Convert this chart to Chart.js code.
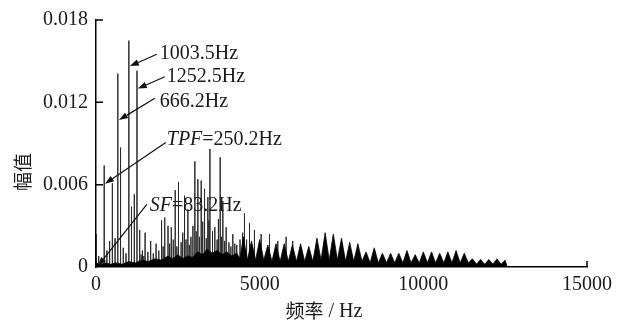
<!DOCTYPE html>
<html>
<head>
<meta charset="utf-8">
<script src="https://cdn.jsdelivr.net/npm/chart.js@4"></script>
<style>
html, body { margin: 0; padding: 0; background: #fff; }
canvas { display: block; }
</style>
</head>
<body>
<canvas id="canvas" width="618" height="324"></canvas>
<script>
// discrete spectral lines (Hz / amplitude)
var spikeFreq = [15, 83.2, 166, 250.2, 333, 416, 500, 583, 666.2, 750, 833, 916,
    1003.5, 1085, 1170, 1252.5, 1335, 1380, 1418, 1460, 1500, 1585, 1670, 1750, 1835, 1918,
    2003, 2050, 2100, 2200, 2250, 2300, 2360, 2420, 2470, 2520, 2600, 2650, 2705, 2750,
    2807, 2850, 2900, 2960, 3020, 3060, 3112, 3160, 3214, 3260, 3316, 3370, 3417, 3450,
    3480, 3560, 3631, 3700, 3740, 3794, 3830, 3875, 3930, 3977, 4060, 4120, 4180, 4240,
    4300, 4400, 4480, 4536, 4600, 4689, 4750, 4841, 5045, 5300, 5553, 5807, 6010];
var spikeAmp = [0.0024, 0.0008, 0.0006, 0.0074, 0.0012, 0.0019, 0.0061, 0.0021, 0.0141, 0.0087, 0.0014, 0.0010,
    0.0165, 0.0044, 0.0053, 0.0143, 0.0027, 0.0009, 0.0012, 0.0008, 0.0025, 0.0011, 0.0019, 0.0010, 0.0017, 0.0012,
    0.0034, 0.0015, 0.0036, 0.0030, 0.0017, 0.0029, 0.0020, 0.0056, 0.0015, 0.0062, 0.0018, 0.0025, 0.0052, 0.0020,
    0.0042, 0.0016, 0.0022, 0.0030, 0.0077, 0.0026, 0.0064, 0.0022, 0.0063, 0.0033, 0.0057, 0.0021, 0.0051, 0.0034,
    0.0086, 0.0026, 0.0029, 0.0020, 0.0035, 0.0080, 0.0022, 0.0048, 0.0019, 0.0029, 0.0018, 0.0015, 0.0024, 0.0017,
    0.0016, 0.0020, 0.0025, 0.0039, 0.0020, 0.0032, 0.0018, 0.0027, 0.0024, 0.0024, 0.0019, 0.0022, 0.0019];

// outline of the dense black noise floor / sideband clusters
var envFreq = [0, 150, 300, 450, 600, 800, 1000, 1200, 1400, 1600, 1800, 2000, 2200, 2350, 2500, 2650,
    2800, 2950, 3100, 3250, 3400, 3550, 3700, 3850, 4000, 4150, 4300, 4400,
    4500, 4625, 4750, 4875, 5000, 5125, 5250, 5375, 5500, 5625, 5750, 5875,
    6000, 6125, 6250, 6375, 6500, 6625, 6750, 6875, 7000, 7125, 7250, 7375,
    7500, 7625, 7750, 7875, 8000, 8125, 8250, 8375, 8500, 8625, 8750, 8875,
    9000, 9125, 9250, 9375, 9500, 9625, 9750, 9875, 10000, 10125, 10250, 10375,
    10500, 10625, 10750, 10875, 11000, 11125, 11250, 11375, 11500, 11625, 11750, 11875,
    12000, 12125, 12250, 12375, 12500, 12560];
var envAmp = [0.0003, 0.0002, 0.0003, 0.0002, 0.0003, 0.0002, 0.0004, 0.0003, 0.0005, 0.0004, 0.0006, 0.0005, 0.0008, 0.0006, 0.0009, 0.0006,
    0.0008, 0.0007, 0.0011, 0.0009, 0.0013, 0.0010, 0.0012, 0.0009, 0.0011, 0.0008, 0.0010, 0.0006,
    0.0022, 0.0005, 0.0019, 0.0005, 0.0020, 0.0005, 0.0016, 0.0004, 0.0017, 0.0004, 0.0017, 0.0004,
    0.0016, 0.0004, 0.0017, 0.0004, 0.0015, 0.0004, 0.0021, 0.0005, 0.0025, 0.0005, 0.0024, 0.0005,
    0.0021, 0.0004, 0.0018, 0.0004, 0.0017, 0.0004, 0.0011, 0.0003, 0.0014, 0.0003, 0.0010, 0.0003,
    0.0010, 0.0003, 0.0010, 0.0003, 0.0012, 0.0003, 0.0009, 0.0003, 0.0011, 0.0003, 0.0011, 0.0003,
    0.0010, 0.0003, 0.0011, 0.0003, 0.0012, 0.0003, 0.0010, 0.0003, 0.0006, 0.0002, 0.00055, 0.0002,
    0.00055, 0.0002, 0.0006, 0.0002, 0.0005, 0];

var xTicks = [0, 5000, 10000, 15000];
var yTicks = [0, 0.006, 0.012, 0.018];

// callouts: arrow head, arrow tail and text anchor, in data units
var callouts = [
    { parts: [['1003.5Hz', false]], head: [1035, 0.01464], tail: [1857, 0.0155], text: [1949, 0.01557] },
    { parts: [['1252.5Hz', false]], head: [1279, 0.0130], tail: [2101, 0.01386], text: [2162, 0.01386] },
    { parts: [['666.2Hz', false]], head: [700, 0.01071], tail: [1797, 0.01229], text: [1949, 0.01207] },
    { parts: [['TPF', true], ['=250.2Hz', false]], head: [274, 0.00607], tail: [2131, 0.00907], text: [2162, 0.00929] },
    { parts: [['SF', true], ['=83.2Hz', false]], head: [61, 0.00007], tail: [1553, 0.00457], text: [1644, 0.00443] }
];

var SERIF = "'Liberation Serif', 'Times New Roman', serif";
var CJK = "'Noto Sans CJK SC', sans-serif";

var spikeData = [];
spikeFreq.forEach(function(f, i){
    spikeData.push({x: f, y: 0}, {x: f, y: spikeAmp[i]}, {x: f, y: 0});
});
var envData = envFreq.map(function(f, i){ return {x: f, y: envAmp[i]}; });

var decor = {
    id: 'decor',
    afterDraw: function(chart){
        var ctx = chart.ctx, xs = chart.scales.x, ys = chart.scales.y, a = chart.chartArea;
        ctx.save();
        // inward tick marks
        ctx.strokeStyle = '#000';
        ctx.lineWidth = 1.5;
        ctx.beginPath();
        yTicks.forEach(function(v){
            if (v === 0) return;
            var y = ys.getPixelForValue(v);
            ctx.moveTo(a.left, y); ctx.lineTo(a.left + 7, y);
        });
        xTicks.forEach(function(v){
            if (v === 0) return;
            var x = xs.getPixelForValue(v);
            ctx.moveTo(x, a.bottom); ctx.lineTo(x, a.bottom - 6);
        });
        ctx.stroke();

        // callouts
        callouts.forEach(function(c){
            var hx = xs.getPixelForValue(c.head[0]), hy = ys.getPixelForValue(c.head[1]);
            var tx = xs.getPixelForValue(c.tail[0]), ty = ys.getPixelForValue(c.tail[1]);
            var ang = Math.atan2(hy - ty, hx - tx);
            var len = 9, half = 3.2;
            var bx = hx - len * Math.cos(ang), by = hy - len * Math.sin(ang);
            ctx.strokeStyle = '#111';
            ctx.lineWidth = 1.2;
            ctx.beginPath(); ctx.moveTo(tx, ty); ctx.lineTo(bx, by); ctx.stroke();
            ctx.fillStyle = '#111';
            ctx.beginPath();
            ctx.moveTo(hx, hy);
            ctx.lineTo(bx + half * Math.sin(ang), by - half * Math.cos(ang));
            ctx.lineTo(bx - half * Math.sin(ang), by + half * Math.cos(ang));
            ctx.closePath(); ctx.fill();

            var px = xs.getPixelForValue(c.text[0]), py = ys.getPixelForValue(c.text[1]);
            ctx.textBaseline = 'middle';
            ctx.textAlign = 'left';
            ctx.fillStyle = '#1a1a1a';
            c.parts.forEach(function(p){
                ctx.font = (p[1] ? 'italic ' : '') + '20px ' + SERIF;
                ctx.fillText(p[0], px, py);
                px += ctx.measureText(p[0]).width;
            });
        });

        // axis titles
        ctx.fillStyle = '#1a1a1a';
        ctx.textBaseline = 'middle';
        ctx.textAlign = 'center';
        ctx.font = '19px ' + CJK;
        ctx.save();
        ctx.translate(23, 172);
        ctx.rotate(-Math.PI / 2);
        ctx.fillText('幅值', 0, 0);
        ctx.restore();

        ctx.textAlign = 'left';
        ctx.font = '19px ' + CJK;
        var w1 = ctx.measureText('频率').width;
        ctx.font = '20px ' + SERIF;
        var w2 = ctx.measureText(' / Hz').width;
        var sx = 324 - (w1 + w2) / 2;
        ctx.font = '19px ' + CJK;
        ctx.fillText('频率', sx, 311);
        ctx.font = '20px ' + SERIF;
        ctx.fillText(' / Hz', sx + w1, 312);
        ctx.restore();
    }
};

var ctx = document.getElementById('canvas').getContext('2d');
var chart = new Chart(ctx, {
    type: 'line',
    data: {
        datasets: [{
            data: envData,
            borderColor: '#000',
            backgroundColor: '#000',
            borderWidth: 0.8,
            pointRadius: 0,
            fill: 'origin'
        }, {
            data: spikeData,
            borderColor: '#2a2a2a',
            borderWidth: 1,
            pointRadius: 0,
            fill: false
        }]
    },
    options: {
        responsive: false,
        animation: false,
        devicePixelRatio: 1,
        layout: { padding: { top: 15, right: 30, left: 0, bottom: 0 } },
        plugins: {
            legend: { display: false },
            tooltip: { enabled: false }
        },
        scales: {
            x: {
                type: 'linear',
                min: 0,
                max: 15000,
                afterBuildTicks: function(s){ s.ticks = xTicks.map(function(v){ return {value: v}; }); },
                afterFit: function(s){ s.height = 57; },
                ticks: {
                    color: '#1a1a1a',
                    font: { family: SERIF, size: 20 },
                    padding: 6,
                    maxRotation: 0,
                    callback: function(v){ return String(v); }
                },
                grid: { display: true, drawOnChartArea: false, drawTicks: false, color: 'rgba(0,0,0,0)' },
                border: { display: true, color: '#000', width: 1.5 }
            },
            y: {
                min: 0,
                max: 0.018,
                afterBuildTicks: function(s){ s.ticks = yTicks.map(function(v){ return {value: v}; }); },
                afterFit: function(s){ s.width = 96; },
                ticks: {
                    color: '#1a1a1a',
                    font: { family: SERIF, size: 20 },
                    padding: 8,
                    callback: function(v){ return v === 0 ? '0' : v.toFixed(3); }
                },
                grid: { display: true, drawOnChartArea: false, drawTicks: false, color: 'rgba(0,0,0,0)' },
                border: { display: true, color: '#000', width: 1.5 }
            }
        }
    },
    plugins: [decor]
});
</script>
</body>
</html>
